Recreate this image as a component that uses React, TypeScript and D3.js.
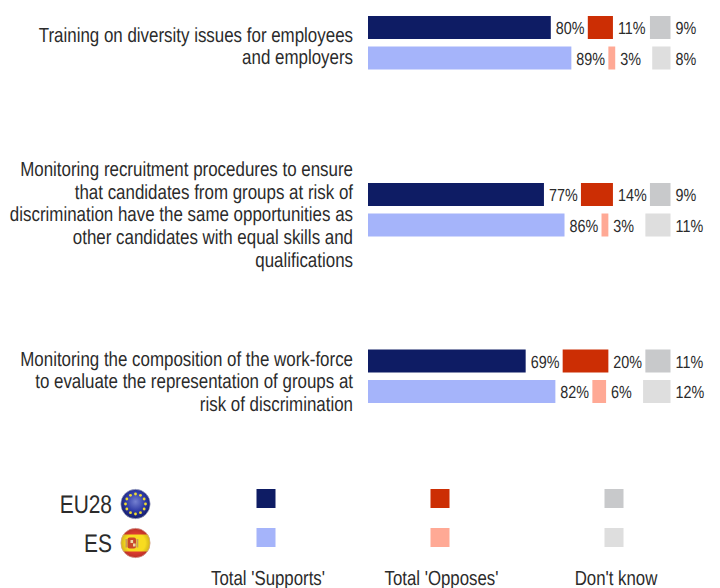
import React from 'react';
import * as d3 from 'd3';

const questions = [
  ['Training on diversity issues for employees', 'and employers'],
  ['Monitoring recruitment procedures to ensure', 'that candidates from groups at risk of', 'discrimination have the same opportunities as', 'other candidates with equal skills and', 'qualifications'],
  ['Monitoring the composition of the work-force', 'to evaluate the representation of groups at', 'risk of discrimination'],
];
const eu28Supports = [80, 77, 69];
const eu28Opposes = [11, 14, 20];
const eu28DontKnow = [9, 9, 11];
const esSupports = [89, 86, 82];
const esOpposes = [3, 3, 6];
const esDontKnow = [8, 11, 12];
const legendLabels = ["Total 'Supports'", "Total 'Opposes'", "Don't know"];
const eu28Colors = ['#0e1c64', '#cc2e04', '#c8c9cb'];
const esColors = ['#a5b4fa', '#ffa995', '#dedede'];
const groupTops = [16, 183, 349.5];
const labelFirstBaselines = [41.5, 176, 365.5];

const LABEL_FONT = '"Liberation Sans", Arial, sans-serif';
const x = d3.scaleLinear().domain([0, 100]).range([0, 228.5]);
const SEG_GAP = 37;
const BAR_H = 23;

function NarrowText({ tx, ty, size, anchor, children, sx = 0.82 }: any) {
  return (
    <text transform={`translate(${tx},${ty}) scale(${sx},1)`} textAnchor={anchor} fontSize={size} fontFamily={LABEL_FONT} fill="#2b2b2b" textRendering="geometricPrecision">
      {children}
    </text>
  );
}

function Row({ values, colors, y }: { values: number[]; colors: string[]; y: number }) {
  let cum = 0;
  return (
    <g>
      {values.map((v, i) => {
        const start = 368 + x(cum) + i * SEG_GAP;
        cum += v;
        return (
          <g key={i}>
            <rect x={start} y={y} width={x(v)} height={BAR_H} fill={colors[i]} />
            <NarrowText tx={start + x(v) + 5} ty={y + 18} size={17.5} anchor="start">{`${v}%`}</NarrowText>
          </g>
        );
      })}
    </g>
  );
}

function EuFlag({ cx, cy }: { cx: number; cy: number }) {
  const stars = d3.range(12).map((i) => (i * Math.PI) / 6);
  return (
    <g>
      <circle cx={cx} cy={cy} r={14.7} fill="url(#euGrad)" stroke="#b4b8c8" strokeWidth={0.6} />
      {stars.map((a, i) => (
        <circle key={i} cx={cx + 10 * Math.cos(a)} cy={cy + 10 * Math.sin(a)} r={1.4} fill="#f0dc30" />
      ))}
    </g>
  );
}

function EsFlag({ cx, cy }: { cx: number; cy: number }) {
  return (
    <g>
      <clipPath id="esClip"><circle cx={cx} cy={cy} r={14.7} /></clipPath>
      <g clipPath="url(#esClip)">
        <rect x={cx - 15} y={cy - 15} width={30} height={30} fill="#dc3b30" />
        <rect x={cx - 15} y={cy - 8.5} width={30} height={17} fill="#f8dc20" />
        <rect x={cx - 8} y={cy - 5.5} width={8.5} height={11} rx={2} fill="#c9482a" />
        <rect x={cx - 5} y={cy - 3} width={2.6} height={3} fill="#ecd8a8" />
        <rect x={cx - 2.5} y={cy + 0.5} width={2.6} height={3} fill="#ecd8a8" />
        <rect x={cx - 10} y={cy - 4} width={1.8} height={8.5} fill="#c89a5c" />
        <rect x={cx + 1} y={cy - 4} width={1.8} height={8.5} fill="#c89a5c" />
        <circle cx={cx} cy={cy} r={15} fill="url(#gloss)" />
      </g>
      <circle cx={cx} cy={cy} r={14.7} fill="none" stroke="#d4b4ac" strokeWidth={0.6} />
    </g>
  );
}

export default function App() {
  return (
    <svg width={720} height={588} style={{ position: 'absolute', left: 0, top: 0, background: '#fff' }}>
      <defs>
        <radialGradient id="euGrad" cx="50%" cy="42%" r="58%">
          <stop offset="0%" stopColor="#7480d0" />
          <stop offset="55%" stopColor="#303ca6" />
          <stop offset="100%" stopColor="#121a68" />
        </radialGradient>
        <radialGradient id="gloss" cx="50%" cy="50%" r="50%">
          <stop offset="65%" stopColor="#000" stopOpacity={0} />
          <stop offset="100%" stopColor="#400" stopOpacity={0.2} />
        </radialGradient>
      </defs>
      {questions.map((lines, i) => (
        <g key={i}>
          {lines.map((l, j) => (
            <NarrowText key={j} tx={353} ty={labelFirstBaselines[i] + j * 22.7} size={20.5} sx={0.825} anchor="end">{l}</NarrowText>
          ))}
          <Row values={[eu28Supports[i], eu28Opposes[i], eu28DontKnow[i]]} colors={eu28Colors} y={groupTops[i]} />
          <Row values={[esSupports[i], esOpposes[i], esDontKnow[i]]} colors={esColors} y={groupTops[i] + 30.5} />
        </g>
      ))}
      <NarrowText tx={112} ty={512.5} size={25.5} anchor="end">EU28</NarrowText>
      <NarrowText tx={112} ty={552} size={25.5} anchor="end">ES</NarrowText>
      <EuFlag cx={135.5} cy={504} />
      <EsFlag cx={135.5} cy={543} />
      {legendLabels.map((l, i) => {
        const cx = [266, 440, 614][i];
        return (
          <g key={l}>
            <rect x={cx - 9.5} y={489} width={19} height={19} fill={eu28Colors[i]} />
            <rect x={cx - 9.5} y={528} width={19} height={19} fill={esColors[i]} />
            <NarrowText tx={[268, 441.5, 616][i]} ty={584.5} size={20.5} anchor="middle">{l}</NarrowText>
          </g>
        );
      })}
    </svg>
  );
}
